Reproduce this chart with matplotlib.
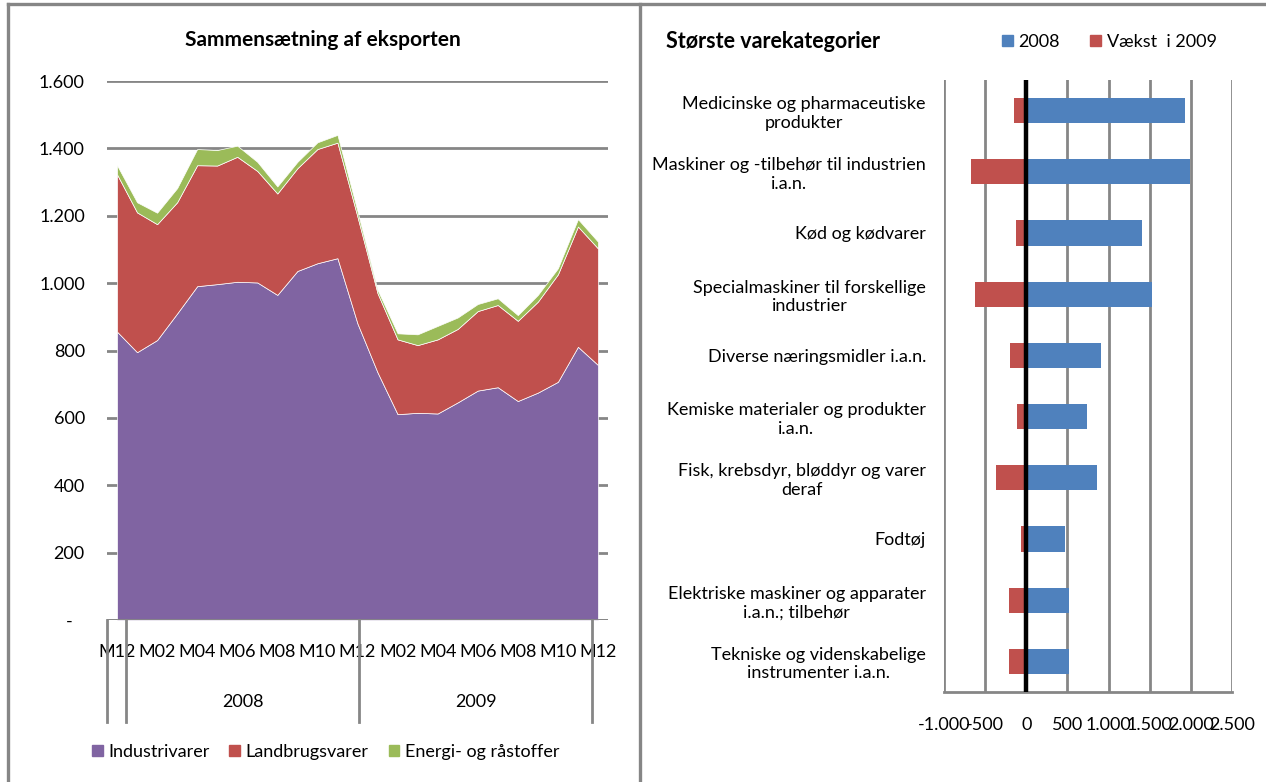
import matplotlib
matplotlib.use('Agg')
import matplotlib.pyplot as plt
import numpy as np
from matplotlib.lines import Line2D
from matplotlib.patches import Patch
import matplotlib.transforms as mtransforms

plt.rcParams['font.family'] = ['Lato', 'DejaVu Sans']

# ---------------- data: left chart ----------------
periods = ['M12', 'M01', 'M02', 'M03', 'M04', 'M05', 'M06', 'M07', 'M08', 'M09', 'M10', 'M11', 'M12',
           'M01', 'M02', 'M03', 'M04', 'M05', 'M06', 'M07', 'M08', 'M09', 'M10', 'M11', 'M12']
year_groups = ['', '2008', '2009']
year_sizes = [1, 12, 12]
industri = [856, 795, 831, 910, 991, 997, 1004, 1002, 965, 1036, 1059, 1074, 880,
            735, 611, 615, 613, 646, 681, 691, 650, 675, 707, 811, 757]
landbrug = [467, 415, 344, 330, 359, 352, 371, 331, 301, 305, 339, 343, 317,
            235, 222, 201, 220, 218, 236, 244, 238, 270, 319, 357, 346]
energi = [27, 30, 34, 42, 48, 46, 33, 27, 21, 19, 20, 23, 16,
          10, 18, 32, 40, 34, 21, 20, 17, 20, 18, 22, 20]
left_series = ['Industrivarer', 'Landbrugsvarer', 'Energi- og råstoffer']
left_yticks = [0, 200, 400, 600, 800, 1000, 1200, 1400, 1600]
left_ylabels = ['-', '200', '400', '600', '800', '1.000', '1.200', '1.400', '1.600']

# ---------------- data: right chart ----------------
categories = ['Medicinske og pharmaceutiske\nprodukter',
              'Maskiner og -tilbehør til industrien\ni.a.n.',
              'Kød og kødvarer',
              'Specialmaskiner til forskellige\nindustrier',
              'Diverse næringsmidler i.a.n.',
              'Kemiske materialer og produkter\ni.a.n.',
              'Fisk, krebsdyr, bløddyr og varer\nderaf',
              'Fodtøj',
              'Elektriske maskiner og apparater\ni.a.n.; tilbehør',
              'Tekniske og videnskabelige\ninstrumenter i.a.n.']
v2008 = [1925, 1990, 1406, 1532, 907, 733, 863, 474, 518, 518]
vaekst2009 = [-154, -674, -130, -629, -195, -110, -365, -61, -215, -215]
right_series = ['2008', 'Vækst  i 2009']
right_xticks = [-1000, -500, 0, 500, 1000, 1500, 2000, 2500]
right_xlabels = ['-1.000', '-500', '0', '500', '1.000', '1.500', '2.000', '2.500']

# ---------------- styling ----------------
C_PURPLE = '#8064A2'
C_RED = '#C0504D'
C_GREEN = '#9BBB59'
C_BLUE = '#4F81BD'
C_GRID = '#868686'
FS = 13
GLW = 2.0

W, H = 1266, 782
fig = plt.figure(figsize=(W / 100, H / 100), dpi=100)


def fx(px):
    return px / W


def fy(py):
    return 1 - py / H


# outer frames
for xs, ys in [([fx(8), fx(8)], [0, fy(4)]),
               ([fx(8), 1], [fy(4), fy(4)]),
               ([fx(640), fx(640)], [0, fy(4)])]:
    fig.add_artist(Line2D(xs, ys, color=C_GRID, lw=2.4))

# ================= LEFT CHART =================
ax1 = fig.add_axes([fx(107), fy(620), fx(608) - fx(107), fy(81) - fy(620)])
x = np.arange(len(periods))
ax1.stackplot(x, industri, landbrug, energi,
              colors=[C_PURPLE, C_RED, C_GREEN],
              edgecolor='white', linewidth=0.5, zorder=2)
ax1.set_xlim(-0.5, 24.5)
ax1.set_ylim(0, 1600)
ax1.set_yticks(left_yticks)
ax1.set_yticklabels(left_ylabels, fontsize=FS)
ax1.yaxis.grid(True, color=C_GRID, lw=GLW, zorder=0)
ax1.set_axisbelow(True)
for s in ax1.spines.values():
    s.set_visible(False)
ax1.tick_params(axis='y', length=0, pad=16)
ax1.set_xticks(x[::2])
ax1.set_xticklabels(periods[::2], fontsize=FS)
ax1.tick_params(axis='x', length=0, pad=17)
ax1.axhline(0, color=C_GRID, lw=GLW, zorder=3)
lab0 = ax1.get_yticklabels()[0]
lab0.set_transform(lab0.get_transform() + mtransforms.ScaledTranslation(-12 / 100, 0, fig.dpi_scale_trans))

# year group brackets
trans = mtransforms.blended_transform_factory(ax1.transData, ax1.transAxes)
slot = 24.2 / 25
bounds = -0.5 + slot * np.concatenate([[0], np.cumsum(year_sizes)])
ybot = -(722 - 620) / (620 - 81)
for b in bounds:
    ax1.add_line(Line2D([b, b], [0, ybot], transform=trans, color=C_GRID, lw=GLW, clip_on=False))
for i, g in enumerate(year_groups):
    if g:
        ax1.text((bounds[i] + bounds[i + 1]) / 2, -(702 - 620) / (620 - 81), g,
                 transform=trans, ha='center', va='center', fontsize=FS)

fig.text(fx(323), fy(40), 'Sammensætning af eksporten', fontsize=15, fontweight='bold',
         ha='center', va='center')

fig.legend([Patch(color=c) for c in [C_PURPLE, C_RED, C_GREEN]], left_series,
           loc='center left', bbox_to_anchor=(fx(92), fy(752)), ncol=3, frameon=False,
           fontsize=FS, handlelength=0.6, handleheight=0.6, handletextpad=0.3,
           columnspacing=1.1, borderaxespad=0, borderpad=0)

# ================= RIGHT CHART =================
ax2 = fig.add_axes([fx(944), fy(692), fx(1232) - fx(944), fy(80) - fy(692)])
y = np.arange(len(categories))
ax2.barh(y, v2008, height=0.41, color=C_BLUE, zorder=2, label=right_series[0])
ax2.barh(y, vaekst2009, height=0.41, color=C_RED, zorder=2, label=right_series[1])
ax2.set_ylim(len(categories) - 0.5, -0.5)
ax2.set_xlim(-1000, 2500)
ax2.set_xticks(right_xticks)
ax2.set_xticklabels(right_xlabels, fontsize=FS)
ax2.xaxis.grid(True, color=C_GRID, lw=GLW, zorder=0)
ax2.set_axisbelow(True)
ax2.set_yticks(y)
ax2.set_yticklabels(categories, fontsize=FS)
for t in ax2.get_yticklabels():
    t.set_multialignment('center')
for k, s in ax2.spines.items():
    s.set_visible(k == 'bottom')
ax2.spines['bottom'].set_color(C_GRID)
ax2.spines['bottom'].set_linewidth(GLW)
ax2.tick_params(axis='y', length=0, pad=13)
ax2.tick_params(axis='x', length=0, pad=18)
ax2.axvline(0, color='black', lw=3.2, zorder=4)

fig.text(fx(666), fy(42), 'Største varekategorier', fontsize=15.5, fontweight='bold',
         ha='left', va='center')
fig.legend([Patch(color=C_BLUE), Patch(color=C_RED)], right_series,
           loc='center left', bbox_to_anchor=(fx(1002), fy(42)), ncol=2, frameon=False,
           fontsize=FS, handlelength=0.6, handleheight=0.6, handletextpad=0.3,
           columnspacing=1.7, borderaxespad=0, borderpad=0)

fig.savefig('out.png', dpi=100)
